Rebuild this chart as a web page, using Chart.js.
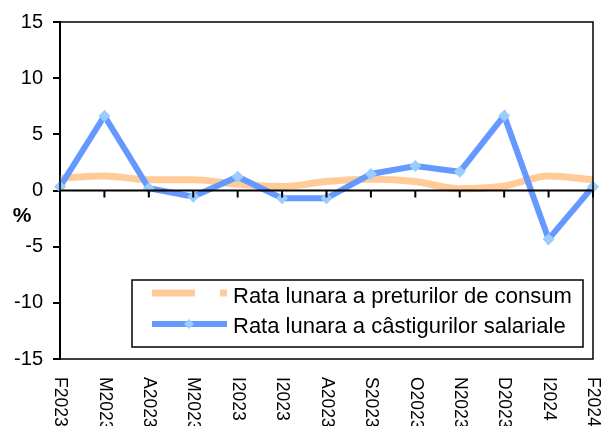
<!DOCTYPE html>
<html>
<head>
<meta charset="utf-8">
<script src="https://cdn.jsdelivr.net/npm/chart.js@4"></script>
<style>
  html, body { margin: 0; padding: 0; background: #fff; }
  #wrap { width: 603px; height: 426px; }
</style>
</head>
<body>
<div id="wrap"><canvas id="chart" width="603" height="426"></canvas></div>
<script>
// Categories (months Feb 2023 - Feb 2024)
const months = ['F2023', 'M2023', 'A2023', 'M2023', 'I2023', 'I2023', 'A2023', 'S2023', 'O2023', 'N2023', 'D2023', 'I2024', 'F2024'];

// Monthly rate of consumer prices (%)
const cpiRate = [1.1, 1.3, 0.95, 0.95, 0.55, 0.35, 0.8, 1.0, 0.8, 0.15, 0.4, 1.3, 0.95];

// Monthly rate of wage earnings (%)
const wageRate = [0.34, 6.63, 0.2, -0.55, 1.23, -0.7, -0.7, 1.47, 2.18, 1.67, 6.66, -4.33, 0.34];

// Y axis ticks
const yTicks = [-15, -10, -5, 0, 5, 10, 15];

const seriesNames = ['Rata lunara a preturilor de consum', 'Rata lunara a câstigurilor salariale'];

const FONT = 'Arial, "Liberation Sans", sans-serif';
const orange = '#FFCC99';
const blue = '#6699FF';
const lightBlue = '#99CCFF';

// Frame, zero line, rotated month labels, legend and the "%" axis title
const decorPlugin = {
    id: 'decor',
    afterDraw(chart) {
        const ctx = chart.ctx;
        const area = chart.chartArea;
        const xScale = chart.scales.x;
        const yScale = chart.scales.y;
        ctx.save();

        // frame
        ctx.strokeStyle = '#000';
        ctx.lineWidth = 1.5;
        ctx.strokeRect(area.left, area.top, area.right - area.left, area.bottom - area.top);

        // zero line with tick marks
        const y0 = yScale.getPixelForValue(0);
        ctx.lineWidth = 2;
        ctx.beginPath();
        ctx.moveTo(area.left, y0);
        ctx.lineTo(area.right, y0);
        months.forEach((m, i) => {
            const x = xScale.getPixelForValue(i);
            ctx.moveTo(x, y0);
            ctx.lineTo(x, y0 + 7);
        });
        ctx.stroke();

        // month labels, rotated clockwise
        ctx.fillStyle = '#000';
        ctx.font = '17.5px ' + FONT;
        ctx.textAlign = 'left';
        ctx.textBaseline = 'middle';
        months.forEach((m, i) => {
            const x = xScale.getPixelForValue(i);
            ctx.save();
            ctx.translate(x, area.bottom + 18);
            ctx.rotate(Math.PI / 2);
            ctx.fillText(m, 0, 0);
            ctx.restore();
        });

        // "%" title
        ctx.font = 'bold 21px ' + FONT;
        ctx.textAlign = 'center';
        ctx.fillText('%', 22, 216);

        // legend
        const lx = area.left + 72;
        const ly = 280;
        const lw = area.right - 10 - lx;
        const lh = 67;
        ctx.fillStyle = '#fff';
        ctx.fillRect(lx, ly, lw, lh);
        ctx.strokeStyle = '#000';
        ctx.lineWidth = 1.5;
        ctx.strokeRect(lx, ly, lw, lh);

        const r1 = ly + 13;
        const r2 = ly + 44;
        // orange sample
        ctx.strokeStyle = orange;
        ctx.lineWidth = 7;
        ctx.beginPath();
        ctx.moveTo(lx + 20, r1);
        ctx.lineTo(lx + 63, r1);
        ctx.moveTo(lx + 88, r1);
        ctx.lineTo(lx + 95, r1);
        ctx.stroke();
        // blue sample
        ctx.strokeStyle = blue;
        ctx.lineWidth = 6;
        ctx.beginPath();
        ctx.moveTo(lx + 20, r2);
        ctx.lineTo(lx + 95, r2);
        ctx.stroke();
        ctx.fillStyle = lightBlue;
        ctx.beginPath();
        ctx.moveTo(lx + 57, r2 - 5);
        ctx.lineTo(lx + 62, r2);
        ctx.lineTo(lx + 57, r2 + 5);
        ctx.lineTo(lx + 52, r2);
        ctx.closePath();
        ctx.fill();

        ctx.fillStyle = '#000';
        ctx.font = '22px ' + FONT;
        ctx.textAlign = 'left';
        ctx.textBaseline = 'middle';
        ctx.fillText(seriesNames[0], lx + 101, r1 + 4);
        ctx.fillText(seriesNames[1], lx + 101, r2 + 3);

        ctx.restore();
    }
};

new Chart(document.getElementById('chart'), {
    type: 'line',
    data: {
        labels: months,
        datasets: [
            {
                label: seriesNames[1],
                data: wageRate,
                borderColor: blue,
                borderWidth: 6,
                tension: 0,
                pointStyle: 'rectRot',
                pointRadius: 6,
                pointBackgroundColor: lightBlue,
                pointBorderWidth: 0,
                order: 0
            },
            {
                label: seriesNames[0],
                data: cpiRate,
                borderColor: orange,
                borderWidth: 7,
                tension: 0.4,
                cubicInterpolationMode: 'monotone',
                pointRadius: 0,
                order: 1
            }
        ]
    },
    options: {
        responsive: false,
        animation: false,
        layout: { padding: { top: 22, right: 10, left: 0, bottom: 0 } },
        plugins: {
            legend: { display: false },
            tooltip: { enabled: false }
        },
        scales: {
            x: {
                type: 'category',
                offset: false,
                grid: { display: false },
                border: { display: false },
                ticks: { display: false },
                afterFit(scale) { scale.height = 67; }
            },
            y: {
                min: -15,
                max: 15,
                afterBuildTicks(scale) { scale.ticks = yTicks.map(v => ({ value: v })); },
                grid: { drawOnChartArea: false, tickLength: 7, color: '#000', lineWidth: 2 },
                border: { display: true, color: '#000', width: 2 },
                ticks: {
                    color: '#000',
                    font: { family: FONT, size: 20 },
                    padding: 10
                },
                afterFit(scale) { scale.width = 60; }
            }
        }
    },
    plugins: [decorPlugin]
});
</script>
</body>
</html>
